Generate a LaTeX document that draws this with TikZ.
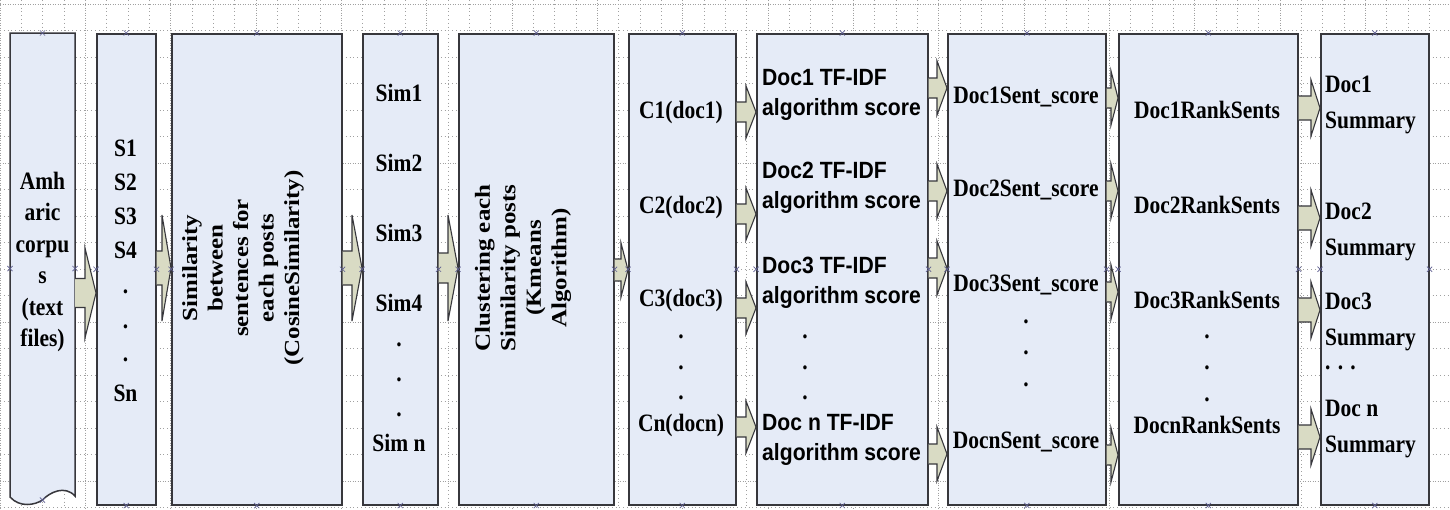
\documentclass[tikz,border=0pt]{standalone}
\usepackage{fontspec}
\setmainfont{Liberation Serif}[FakeStretch=0.86]
\newfontfamily\sidewaysserif{Liberation Serif}[FakeStretch=1.16]
\newfontfamily\labelsans{Liberation Sans}[FakeStretch=0.9]
\usetikzlibrary{calc}

\definecolor{boxfill}{RGB}{229,235,247}
\definecolor{arrowfill}{RGB}{217,219,196}
\definecolor{edge}{RGB}{55,55,60}
\definecolor{pinmark}{RGB}{95,95,145}
\definecolor{gridline}{RGB}{160,160,160}

\tikzset{
  stage/.style={draw=edge, fill=boxfill, line width=1.5pt, inner sep=0pt,
                minimum height=471pt, anchor=north west},
  fat/.style={draw=edge, fill=arrowfill, line width=1.1pt, line join=miter},
  lbl/.style={font=\fontsize{25}{31.5}\selectfont\bfseries, inner sep=0pt},
  sanslbl/.style={font=\labelsans\fontsize{23.5}{30}\selectfont\bfseries,
                  inner sep=0pt, align=left, anchor=west},
  sumlbl/.style={font=\fontsize{25}{36}\selectfont\bfseries,
                 inner sep=0pt, align=left, anchor=west},
  sidelbl/.style={font=\sidewaysserif\fontsize{21.5}{25.5}\selectfont\bfseries,
                  inner sep=0pt, rotate=90, align=center},
  pin/.style={draw=pinmark, line width=0.7pt},
  gridminor/.style={draw=gridline, line width=0.5pt, dash pattern=on 0.8pt off 3pt},
  gridmajor/.style={draw=gridline, line width=0.5pt, dash pattern=on 1pt off 1.5pt},
}

% block arrow between two stages: from, to, centre y, head half height,
% shaft half height, head length
\newcommand\fatarrow[6]{%
  \draw[fat] let \p1=(#1.east), \p2=(#2.west), \p3=(0,#3) in
    (\x1,\y3+#5pt) -- (\x2-#6pt,\y3+#5pt) -- (\x2-#6pt,\y3+#4pt) -- (\x2,\y3)
    -- (\x2-#6pt,\y3-#4pt) -- (\x2-#6pt,\y3-#5pt) -- (\x1,\y3-#5pt);}

% connection point cross
\newcommand\pinx[1]{%
  \draw[pin] (#1) +(-2.6,-2.6) -- +(2.6,2.6) +(-2.6,2.6) -- +(2.6,-2.6);}

\begin{document}
\begin{tikzpicture}[x=1pt,y=-1pt]
\useasboundingbox (0,0) rectangle (1450,509);
\fill[white] (0,0) rectangle (1450,509);

% page grid
\foreach \i in {0,...,68} {
  \pgfmathtruncatemacro\m{mod(\i,4)}
  \ifnum\m=0
    \draw[gridmajor] (\i*21.333,0) -- (\i*21.333,509);
  \else
    \draw[gridminor] (\i*21.333,0) -- (\i*21.333,509);
  \fi
}
\foreach \j in {0,...,19} {
  \pgfmathtruncatemacro\m{mod(\j,6)}
  \ifnum\m=0
    \draw[gridmajor] (0,4+\j*26.5) -- (1450,4+\j*26.5);
  \else
    \draw[gridminor] (0,4+\j*26.5) -- (1450,4+\j*26.5);
  \fi
}

% stage 1: document shape with wavy foot
\node[draw=none, inner sep=0pt, outer sep=0pt, minimum width=65pt,
      minimum height=471pt, anchor=north west] (b1) at (10,33) {};
\draw[draw=edge, fill=boxfill, line width=1.5pt]
  (b1.north west) -- (b1.north east) -- (75,496)
  .. controls (65,485) and (50,492) .. (42.5,500)
  .. controls (35,505) and (20,508) .. (10,497) -- cycle;
\coordinate (b1foot) at (42.5,500);

% remaining stages
\node[stage, minimum width=59pt]  (b2)  at (96,33)   {};
\node[stage, minimum width=170pt] (b3)  at (171,33)  {};
\node[stage, minimum width=75pt]  (b4)  at (362,33)  {};
\node[stage, minimum width=155pt] (b5)  at (458,33)  {};
\node[stage, minimum width=107pt] (b6)  at (628,33)  {};
\node[stage, minimum width=171pt] (b7)  at (756,33)  {};
\node[stage, minimum width=158pt] (b8)  at (947,33)  {};
\node[stage, minimum width=179pt] (b9)  at (1118,33) {};
\node[stage, minimum width=108pt] (b10) at (1320,33) {};

% block arrows
\fatarrow{b1}{b2}{293}{45}{14.5}{11}
\fatarrow{b2}{b3}{268}{53}{17}{9}
\fatarrow{b3}{b4}{268}{53}{17}{10}
\fatarrow{b4}{b5}{268}{53}{15}{10}
\fatarrow{b5}{b6}{270}{27}{11}{7}
\foreach \yc in {112,214,308,427} {\fatarrow{b6}{b7}{\yc}{26}{10}{10}}
\foreach \yc in {88,191,268,454}  {\fatarrow{b7}{b8}{\yc}{27}{10}{10}}
\foreach \yc in {98,191,292,455}  {\fatarrow{b8}{b9}{\yc}{27}{10}{7}}
\foreach \yc in {108,218,310,437} {\fatarrow{b9}{b10}{\yc}{28}{12}{9}}

% connection points
\pinx{b1.north} \pinx{b1foot} \pinx{b1.west} \pinx{b1.east}
\foreach \n in {b2,b3,b4,b5,b6,b7,b8,b9,b10} {
  \foreach \a in {north,south,west,east} {\pinx{\n.\a}}
}

% stage 1 text
\node[lbl, align=center] (t1) at (42.5,262) {Amh\\aric\\corpu\\s\\(text\\files)};

% stage 2: sentences
\node[lbl] (s1) at (125.5,148) {S1};
\node[lbl] (s2) at (125.5,182) {S2};
\node[lbl] (s3) at (125.5,216) {S3};
\node[lbl] (s4) at (125.5,250) {S4};
\node[lbl] (s5) at (125.5,292) {.};
\node[lbl] (s6) at (125.5,327) {.};
\node[lbl] (s7) at (125.5,360) {.};
\node[lbl] (sn) at (125.5,393) {Sn};

% stage 3
\node[sidelbl] (t3) at (243,268)
  {Similarity\\between\\sentences for\\each posts\\(CosineSimilarity)};

% stage 4: similarities
\node[lbl] (m1) at (399,93)  {Sim1};
\node[lbl] (m2) at (399,163) {Sim2};
\node[lbl] (m3) at (399,233) {Sim3};
\node[lbl] (m4) at (399,303) {Sim4};
\node[lbl] (m5) at (399,345) {.};
\node[lbl] (m6) at (399,380) {.};
\node[lbl] (m7) at (399,415) {.};
\node[lbl] (mn) at (399,443) {Sim n};

% stage 5
\node[sidelbl] (t5) at (523,268)
  {Clustering each\\Similarity posts\\(Kmeans\\Algorithm)};

% stage 6: clusters
\node[lbl] (c1) at (681,112) {C1(doc1)};
\node[lbl] (c2) at (681,207) {C2(doc2)};
\node[lbl] (c3) at (681,300) {C3(doc3)};
\node[lbl] (c4) at (681,337) {.};
\node[lbl] (c5) at (681,368) {.};
\node[lbl] (c6) at (681,398) {.};
\node[lbl] (cn) at (681,425) {Cn(docn)};

% stage 7: TF-IDF scores
\node[sanslbl] (f1) at (762,95)    {Doc1 TF-IDF\\algorithm score};
\node[sanslbl] (f2) at (762,188)   {Doc2 TF-IDF\\algorithm score};
\node[sanslbl] (f3) at (762,282.5) {Doc3 TF-IDF\\algorithm score};
\node[lbl] (f4) at (805,337) {.};
\node[lbl] (f5) at (805,368) {.};
\node[lbl] (f6) at (805,398) {.};
\node[sanslbl] (fn) at (762,440)   {Doc n TF-IDF\\algorithm score};

% stage 8: sentence scores
\node[lbl] (e1) at (1026,97)  {Doc1Sent\_score};
\node[lbl] (e2) at (1026,190) {Doc2Sent\_score};
\node[lbl] (e3) at (1026,285) {Doc3Sent\_score};
\node[lbl] (e4) at (1026,322) {.};
\node[lbl] (e5) at (1026,353) {.};
\node[lbl] (e6) at (1026,385) {.};
\node[lbl] (en) at (1026,442) {DocnSent\_score};

% stage 9: ranked sentences
\node[lbl] (r1) at (1207,110) {Doc1RankSents};
\node[lbl] (r2) at (1207,205) {Doc2RankSents};
\node[lbl] (r3) at (1207,300) {Doc3RankSents};
\node[lbl] (r4) at (1207,337) {.};
\node[lbl] (r5) at (1207,368) {.};
\node[lbl] (r6) at (1207,400) {.};
\node[lbl] (rn) at (1207,425) {DocnRankSents};

% stage 10: summaries
\node[sumlbl] (y1) at (1325,105)   {Doc1\\Summary};
\node[sumlbl] (y2) at (1325,231.5) {Doc2\\Summary};
\node[sumlbl] (y3) at (1325,322)   {Doc3\\Summary};
\node[lbl, anchor=west] (y4) at (1325,368) {. . .};
\node[sumlbl] (yn) at (1325,429) {Doc n\\Summary};
\end{tikzpicture}
\end{document}
